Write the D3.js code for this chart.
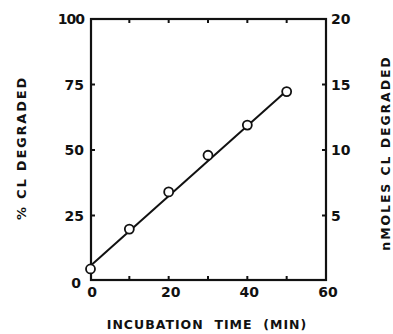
<!DOCTYPE html>
<html><head><meta charset="utf-8">
<script src="https://cdn.jsdelivr.net/npm/d3@7"></script>
<style>body{margin:0;background:#fff}svg{display:block}text{font-family:"DejaVu Sans",sans-serif;font-weight:bold;fill:#111}</style>
</head><body>
<script>
const times = [0, 10, 20, 30, 40, 50];
const pctDegraded = [4.6, 19.8, 34, 48, 59.5, 72.3];
const fitTimes = [0, 50];
const fitPct = [5.6, 72.6];
const xTicks = [0, 20, 40, 60];
const xMinorTicks = [10, 20, 30, 40, 50];
const yLeftTicks = [0, 25, 50, 75, 100];
const yRightTicks = [5, 10, 15, 20];
const xTitle = "INCUBATION  TIME  (MIN)";
const yLeftTitle = "% CL DEGRADED";
const yRightTitle = "nMOLES CL DEGRADED";

const W = 393, H = 334;
const svg = d3.select("body").append("svg").attr("width", W).attr("height", H);
const x = d3.scaleLinear().domain([0, 60]).range([90, 326]);
const y = d3.scaleLinear().domain([0, 100]).range([281, 19]);
const y2 = d3.scaleLinear().domain([0, 20]).range([281, 19]);

// frame
svg.append("rect").attr("x", x(0)+1).attr("y", y(100)).attr("width", x(60)-x(0)-1).attr("height", y(0)-y(100)-1)
  .attr("fill", "none").attr("stroke", "#111").attr("stroke-width", 2.2);

// inward ticks bottom and top
const tl = 4;
xMinorTicks.forEach(t => {
  svg.append("line").attr("x1", x(t)).attr("x2", x(t)).attr("y1", y(0)-1).attr("y2", y(0)-1-tl).attr("stroke", "#111").attr("stroke-width", 2);
  svg.append("line").attr("x1", x(t)).attr("x2", x(t)).attr("y1", y(100)).attr("y2", y(100)+tl).attr("stroke", "#111").attr("stroke-width", 2);
});
yLeftTicks.slice(1, -1).forEach(v => {
  svg.append("line").attr("x1", x(0)+1).attr("x2", x(0)+1+tl).attr("y1", y(v)).attr("y2", y(v)).attr("stroke", "#111").attr("stroke-width", 2);
});
yRightTicks.slice(0, -1).forEach(v => {
  svg.append("line").attr("x1", x(60)).attr("x2", x(60)-tl).attr("y1", y2(v)).attr("y2", y2(v)).attr("stroke", "#111").attr("stroke-width", 2);
});

// tick labels
svg.selectAll(".xl").data(xTicks).enter().append("text")
  .attr("x", d => x(d) + 2).attr("y", 297).attr("text-anchor", "middle").attr("font-size", 14).text(d => d);
svg.selectAll(".yl").data(yLeftTicks).enter().append("text")
  .attr("x", d => d === 0 ? 81 : 84).attr("y", d => (d === 0 ? y(d) + 2 : y(d)) + 5).attr("text-anchor", "end")
  .attr("font-size", 14).attr("letter-spacing", d => d === 100 ? -1 : 0).text(d => d);
svg.selectAll(".yr").data(yRightTicks).enter().append("text")
  .attr("x", 331).attr("y", d => y2(d) + 5).attr("text-anchor", "start").attr("font-size", 14).text(d => d);

// titles
svg.append("text").attr("x", 207).attr("y", 329).attr("text-anchor", "middle").attr("font-size", 12.5)
  .attr("letter-spacing", 1).style("white-space", "pre").text(xTitle);
svg.append("text").attr("transform", "translate(26,148) rotate(-90)").attr("text-anchor", "middle")
  .attr("font-size", 13).attr("letter-spacing", 1.8).style("white-space", "pre").text(yLeftTitle);
svg.append("text").attr("transform", "translate(389.5,153) rotate(-90)").attr("text-anchor", "middle")
  .attr("font-size", 12.5).attr("letter-spacing", 1.9).style("white-space", "pre").text(yRightTitle);

// fit line
svg.append("path").datum(fitTimes.map((t, i) => [t, fitPct[i]]))
  .attr("d", d3.line().x(d => x(d[0])).y(d => y(d[1])))
  .attr("fill", "none").attr("stroke", "#111").attr("stroke-width", 2);

// points
svg.selectAll(".pt").data(times.map((t, i) => [t, pctDegraded[i]])).enter().append("circle")
  .attr("cx", d => x(d[0]) + (d[0] === 0 ? 0.5 : 0)).attr("cy", d => y(d[1])).attr("r", 4.5)
  .attr("fill", "#fff").attr("stroke", "#111").attr("stroke-width", 1.8);
</script>
</body></html>
